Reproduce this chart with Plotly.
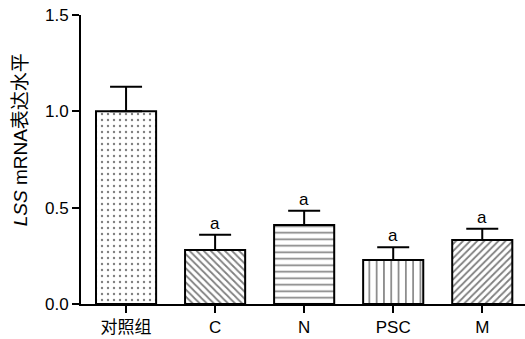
import plotly.graph_objects as go

# Relative LSS mRNA expression per group (mean and upper error)
groups = ["对照组", "C", "N", "PSC", "M"]
means = [1.0, 0.28, 0.41, 0.228, 0.332]
errors = [0.128, 0.08, 0.074, 0.066, 0.058]
sig_labels = ["", "a", "a", "a", "a"]
patterns = [".", "\\", "-", "|", "/"]
pattern_sizes = [6, 5, 6.5, 7.3, 5]
pattern_solidity = [0.12, 0.35, 0.25, 0.22, 0.35]

FONT = "Liberation Sans, Arial, Noto Sans CJK SC, sans-serif"
FS = 17

fig = go.Figure()
fig.add_trace(go.Bar(
    x=groups,
    y=means,
    width=0.675,
    marker=dict(
        color="white",
        line=dict(color="black", width=2),
        pattern=dict(
            shape=patterns,
            fgcolor="black",
            bgcolor="white",
            size=pattern_sizes,
            solidity=pattern_solidity,
        ),
    ),
    error_y=dict(
        type="data",
        symmetric=False,
        array=errors,
        arrayminus=[0] * len(errors),
        thickness=2,
        width=16,
        color="black",
    ),
    showlegend=False,
))

for g, m, e, lab in zip(groups, means, errors, sig_labels):
    if lab:
        fig.add_annotation(
            x=g, y=m + e, text=lab, showarrow=False,
            yanchor="bottom", yshift=0,
            font=dict(family=FONT, size=FS, color="black"),
        )

# y-axis title, placed as a rotated annotation
fig.add_annotation(
    xref="paper", yref="paper", x=-0.137, y=0.567,
    text="<i>LSS</i> mRNA表达水平", textangle=-90, showarrow=False,
    xanchor="center", yanchor="middle",
    font=dict(family=FONT, size=19, color="black"),
)

fig.update_layout(
    width=525,
    height=339,
    margin=dict(l=81, r=0, t=15, b=35),
    paper_bgcolor="white",
    plot_bgcolor="white",
    font=dict(family=FONT, size=FS, color="black"),
)
fig.update_xaxes(
    range=[-0.506, 4.48],
    showline=True, linecolor="black", linewidth=2,
    ticks="outside", ticklen=7, tickwidth=2, tickcolor="black",
    showgrid=False, zeroline=False,
    tickfont=dict(family=FONT, size=FS, color="black"),
)
fig.update_yaxes(
    range=[0, 1.5],
    tickvals=[0, 0.5, 1.0, 1.5],
    ticktext=["0.0", "0.5", "1.0", "1.5"],
    showline=True, linecolor="black", linewidth=2,
    ticks="outside", ticklen=7, tickwidth=2, tickcolor="black",
    showgrid=False, zeroline=False,
    tickfont=dict(family=FONT, size=FS, color="black"),
)

fig.write_html("out.html")
